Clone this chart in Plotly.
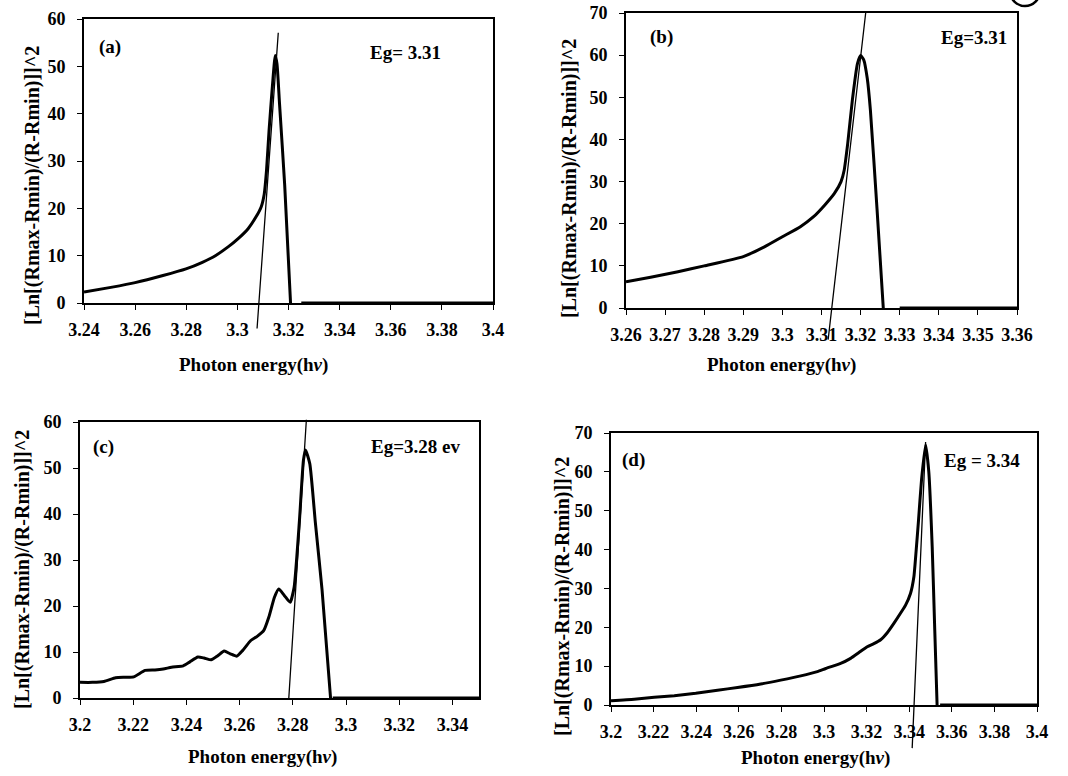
import plotly.graph_objects as go

W, H = 1068, 776

# ---------------- data ----------------
# Panel (a)
a_x = [3.2400, 3.2505, 3.2600, 3.2709, 3.2799, 3.2863, 3.2914, 3.2965, 3.3003, 3.3042,
       3.3073, 3.3093, 3.3105, 3.3114, 3.3124, 3.3137, 3.3148, 3.3155, 3.3165, 3.3185, 3.3208]
a_y = [2.3, 3.3, 4.3, 5.8, 7.2, 8.6, 10.0, 11.9, 13.6, 15.7,
       18.2, 20.3, 23.0, 28.0, 36.5, 45.8, 52.3, 50.5, 42.0, 25.0, 0.0]
a_zero_x = [3.325, 3.4]
a_zero_y = [0, 0]
a_tan_x = [3.3077, 3.3160]
a_tan_y = [-5.4, 57.1]
a_ticks = [3.24, 3.26, 3.28, 3.30, 3.32, 3.34, 3.36, 3.38, 3.40]
a_ticktext = ["3.24", "3.26", "3.28", "3.3", "3.32", "3.34", "3.36", "3.38", "3.4"]

# Panel (b)
b_x = [3.2600, 3.2663, 3.2733, 3.2800, 3.2900, 3.2954, 3.3000, 3.3046, 3.3079, 3.3108,
       3.3133, 3.3150, 3.3158, 3.3167, 3.3179, 3.3192, 3.3200, 3.3208, 3.3217, 3.3225,
       3.3242, 3.3258]
b_y = [6.2, 7.3, 8.6, 10.0, 12.2, 14.5, 16.9, 19.3, 21.6, 24.4,
       27.2, 30.0, 32.7, 39.0, 49.4, 58.0, 59.9, 58.9, 54.5, 47.0,
       23.5, 0.0]
b_zero_x = [3.330, 3.36]
b_zero_y = [0, 0]
b_tan_x = [3.3117, 3.3213]
b_tan_y = [-7.5, 70.0]
b_ticks = [3.26, 3.27, 3.28, 3.29, 3.30, 3.31, 3.32, 3.33, 3.34, 3.35, 3.36]
b_ticktext = ["3.26", "3.27", "3.28", "3.29", "3.3", "3.31", "3.32", "3.33", "3.34", "3.35", "3.36"]

# Panel (c)
c_x = [3.2000, 3.2047, 3.2090, 3.2134, 3.2171, 3.2202, 3.2245, 3.2282, 3.2313, 3.2344,
       3.2388, 3.2412, 3.2443, 3.2466, 3.2493, 3.2518, 3.2542, 3.2565, 3.2590, 3.2611,
       3.2642, 3.2666, 3.2691, 3.2710, 3.2731, 3.2747, 3.2768, 3.2790, 3.2805, 3.2825,
       3.2840, 3.2848, 3.2864, 3.2885, 3.2910, 3.2942]
c_y = [3.4, 3.4, 3.6, 4.4, 4.5, 4.6, 6.0, 6.1, 6.3, 6.7,
       7.0, 7.8, 8.9, 8.7, 8.3, 9.2, 10.2, 9.6, 9.1, 10.3,
       12.5, 13.4, 14.7, 17.6, 21.9, 23.7, 22.3, 20.8, 24.1, 38.6,
       51.7, 53.9, 50.9, 38.0, 23.5, 0.0]
c_zero_x = [3.295, 3.35]
c_zero_y = [0, 0]
c_tan_x = [3.2785, 3.2851]
c_tan_y = [0.0, 60.5]
c_ticks = [3.20, 3.22, 3.24, 3.26, 3.28, 3.30, 3.32, 3.34]
c_ticktext = ["3.2", "3.22", "3.24", "3.26", "3.28", "3.3", "3.32", "3.34"]

# Panel (d)
d_x = [3.2000, 3.2109, 3.2203, 3.2297, 3.2398, 3.2500, 3.2594, 3.2703, 3.2797, 3.2891,
       3.2969, 3.3008, 3.3078, 3.3125, 3.3164, 3.3203, 3.3234, 3.3266, 3.3297, 3.3328,
       3.3359, 3.3383, 3.3406, 3.3422, 3.3433, 3.3443, 3.3458, 3.3477, 3.3492, 3.3508,
       3.3520, 3.3531]
d_y = [1.1, 1.5, 2.0, 2.4, 3.0, 3.8, 4.5, 5.4, 6.4, 7.5,
       8.6, 9.4, 10.7, 12.0, 13.5, 15.0, 15.8, 16.8, 18.6, 21.0,
       23.6, 25.7, 28.7, 33.0, 40.0, 47.0, 58.0, 67.0, 60.0, 40.7,
       19.3, 0.0]
d_zero_x = [3.3545, 3.4]
d_zero_y = [0, 0]
d_tan_x = [3.3414, 3.3477]
d_tan_y = [-11.1, 67.7]
d_ticks = [3.20, 3.22, 3.24, 3.26, 3.28, 3.30, 3.32, 3.34, 3.36, 3.38, 3.40]
d_ticktext = ["3.2", "3.22", "3.24", "3.26", "3.28", "3.3", "3.32", "3.34", "3.36", "3.38", "3.4"]

y_ticks_60 = [0, 10, 20, 30, 40, 50, 60]
y_ticks_70 = [0, 10, 20, 30, 40, 50, 60, 70]

labels = ["(a)", "(b)", "(c)", "(d)"]
eg_texts = ["Eg= 3.31", "Eg=3.31", "Eg=3.28 ev", "Eg = 3.34"]
x_title = "Photon energy(h<i>ν</i>)"
y_title = "[Ln[(Rmax-Rmin)/(R-Rmin)]]^2"

# ---------------- layout helpers (pixel -> paper fraction) ----------------
def pxx(v):
    return v / W

def pxy(v):
    return 1 - v / H

FONT = "Liberation Serif"

panels = [
    dict(cx=a_x, cy=a_y, zx=a_zero_x, zy=a_zero_y, tx=a_tan_x, ty=a_tan_y,
         ticks=a_ticks, ticktext=a_ticktext, xr=[3.24, 3.40], yr=[0, 60], yt=y_ticks_60,
         box=(84, 493, 19, 303), lab=(110, 47), eg=(405, 53), xt=(253, 365), ytp=(32, 186)),
    dict(cx=b_x, cy=b_y, zx=b_zero_x, zy=b_zero_y, tx=b_tan_x, ty=b_tan_y,
         ticks=b_ticks, ticktext=b_ticktext, xr=[3.26, 3.36], yr=[0, 70], yt=y_ticks_70,
         box=(626, 1017, 13, 308), lab=(661, 37), eg=(974, 37), xt=(781, 365), ytp=(569, 179)),
    dict(cx=c_x, cy=c_y, zx=c_zero_x, zy=c_zero_y, tx=c_tan_x, ty=c_tan_y,
         ticks=c_ticks, ticktext=c_ticktext, xr=[3.20, 3.35], yr=[0, 60], yt=y_ticks_60,
         box=(80, 479, 422, 698), lab=(103, 447), eg=(415, 447), xt=(262, 757), ytp=(22, 570)),
    dict(cx=d_x, cy=d_y, zx=d_zero_x, zy=d_zero_y, tx=d_tan_x, ty=d_tan_y,
         ticks=d_ticks, ticktext=d_ticktext, xr=[3.20, 3.40], yr=[0, 70], yt=y_ticks_70,
         box=(611, 1037, 433, 705), lab=(633, 460), eg=(982, 460), xt=(815, 758), ytp=(562, 597)),
]

fig = go.Figure()
annotations = []
layout_axes = {}

for i, p in enumerate(panels):
    n = "" if i == 0 else str(i + 1)
    xa, ya = "x" + n, "y" + n
    x_all = list(p["cx"]) + [None] + list(p["zx"])
    y_all = list(p["cy"]) + [None] + list(p["zy"])
    fig.add_trace(go.Scatter(x=x_all, y=y_all, mode="lines",
                             line=dict(color="black", width=3, shape="spline", smoothing=0.5),
                             connectgaps=False, showlegend=False,
                             xaxis=xa, yaxis=ya, hoverinfo="skip"))
    l, r, t, b = p["box"]
    tick_font = dict(family=FONT, size=18, color="black")
    layout_axes["xaxis" + n] = dict(
        domain=[pxx(l), pxx(r)], anchor=ya, range=p["xr"], automargin=False,
        tickmode="array", tickvals=p["ticks"],
        ticktext=["<b>%s</b>" % s for s in p["ticktext"]],
        ticks="outside", ticklen=5, tickwidth=1, tickcolor="black",
        showline=True, linecolor="black", linewidth=2, mirror=True,
        showgrid=False, zeroline=False, tickfont=tick_font, ticklabelstandoff=4,
        ticklabeloverflow="allow", fixedrange=True,
    )
    layout_axes["yaxis" + n] = dict(
        domain=[pxy(b), pxy(t)], anchor=xa, range=p["yr"], automargin=False,
        tickmode="array", tickvals=p["yt"],
        ticktext=["<b>%d</b>" % v for v in p["yt"]],
        ticks="outside", ticklen=5, tickwidth=1, tickcolor="black",
        showline=True, linecolor="black", linewidth=2, mirror=True,
        showgrid=False, zeroline=False, tickfont=tick_font, ticklabelstandoff=8,
        ticklabeloverflow="allow", fixedrange=True,
    )
    # tangent line (drawn as a headless arrow so it may extend beyond the frame)
    annotations.append(dict(
        x=p["tx"][1], y=p["ty"][1], xref=xa, yref=ya,
        ax=p["tx"][0], ay=p["ty"][0], axref=xa, ayref=ya,
        text=" ", font=dict(size=1), borderpad=0, borderwidth=0,
        showarrow=True, arrowhead=0, arrowwidth=1.3, arrowcolor="black",
        standoff=0, startstandoff=0,
    ))
    bold = dict(family=FONT, size=19, color="black")
    annotations.append(dict(x=pxx(p["lab"][0]), y=pxy(p["lab"][1]), xref="paper", yref="paper",
                            text="<b>%s</b>" % labels[i], showarrow=False, font=bold,
                            xanchor="center", yanchor="middle"))
    annotations.append(dict(x=pxx(p["eg"][0]), y=pxy(p["eg"][1]), xref="paper", yref="paper",
                            text="<b>%s</b>" % eg_texts[i], showarrow=False, font=bold,
                            xanchor="center", yanchor="middle"))
    annotations.append(dict(x=pxx(p["xt"][0]), y=pxy(p["xt"][1]), xref="paper", yref="paper",
                            text="<b>%s</b>" % x_title, showarrow=False, font=bold,
                            xanchor="center", yanchor="middle"))
    annotations.append(dict(x=pxx(p["ytp"][0]), y=pxy(p["ytp"][1]), xref="paper", yref="paper",
                            text="<b>%s</b>" % y_title, showarrow=False,
                            font=dict(family=FONT, size=20, color="black"), textangle=-90,
                            xanchor="center", yanchor="middle"))

fig.update_layout(
    width=W, height=H,
    margin=dict(l=0, r=0, t=0, b=0, autoexpand=False),
    paper_bgcolor="white", plot_bgcolor="white",
    annotations=annotations,
    hovermode=False,
    shapes=[dict(type="circle", xref="paper", yref="paper",
                 x0=pxx(1010), x1=pxx(1040), y0=pxy(6), y1=pxy(-24),
                 line=dict(color="black", width=2.5))],
    **layout_axes,
)

fig.write_html(
    "out.html",
    config={"displayModeBar": False, "staticPlot": True},
    post_script="document.body.style.margin='0px';document.body.style.overflow='hidden';",
)
